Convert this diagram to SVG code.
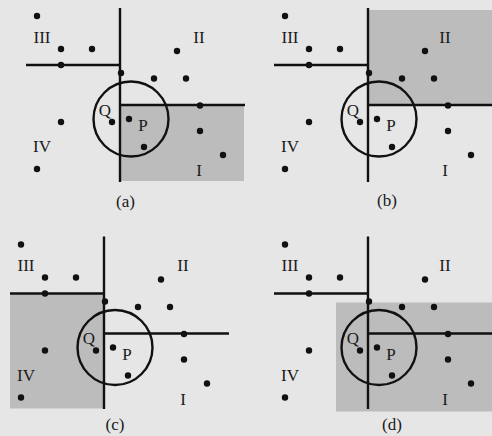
<svg xmlns="http://www.w3.org/2000/svg" width="492" height="436" viewBox="0 0 492 436">
<style>
.ln{stroke:#111;stroke-width:2.4;fill:none}
.sh{fill:#bcbcbc}
.pt{fill:#111}
.t{font-family:"Liberation Serif","Times New Roman",serif;font-size:17px;fill:#1a1a1a;text-anchor:middle}
</style>
<rect width="492" height="436" fill="#e6e6e6"/>
<g id="panel-a">
<rect class="sh" x="120" y="105" width="124" height="76"/>
<path class="ln" d="M120 8V182M26 65H120M120 105H245"/>
<circle class="ln" cx="131" cy="119" r="37.5"/>
<g class="pt">
<circle cx="37" cy="16" r="3.2"/><circle cx="61" cy="49" r="3.2"/><circle cx="92" cy="49" r="3.2"/><circle cx="61" cy="65" r="3.2"/>
<circle cx="121" cy="73" r="3.2"/><circle cx="154" cy="78.5" r="3.2"/><circle cx="186" cy="78.5" r="3.2"/><circle cx="177" cy="51" r="3.2"/>
<circle cx="200" cy="105.5" r="3.2"/><circle cx="61" cy="122" r="3.2"/><circle cx="112" cy="122" r="3.2"/><circle cx="129" cy="119" r="3.2"/>
<circle cx="200" cy="131" r="3.2"/><circle cx="144" cy="147" r="3.2"/><circle cx="223" cy="155" r="3.2"/><circle cx="37" cy="169" r="3.2"/>
</g>
<text class="t" x="42" y="42.5">III</text><text class="t" x="199" y="42.5">II</text>
<text class="t" x="105" y="115.5">Q</text><text class="t" x="143" y="131">P</text>
<text class="t" x="42" y="152">IV</text><text class="t" x="199" y="176">I</text>
<text class="t" x="125.5" y="207">(a)</text>
</g>
<g id="panel-b">
<g transform="translate(248,0)">
<rect class="sh" x="120" y="10" width="125" height="95"/>
<path class="ln" d="M120 8V182M26 65H120M120 105H245"/>
<circle class="ln" cx="131" cy="119" r="37.5"/>
<g class="pt">
<circle cx="37" cy="16" r="3.2"/><circle cx="61" cy="49" r="3.2"/><circle cx="92" cy="49" r="3.2"/><circle cx="61" cy="65" r="3.2"/>
<circle cx="121" cy="73" r="3.2"/><circle cx="154" cy="78.5" r="3.2"/><circle cx="186" cy="78.5" r="3.2"/><circle cx="177" cy="51" r="3.2"/>
<circle cx="200" cy="105.5" r="3.2"/><circle cx="61" cy="122" r="3.2"/><circle cx="112" cy="122" r="3.2"/><circle cx="129" cy="119" r="3.2"/>
<circle cx="200" cy="131" r="3.2"/><circle cx="144" cy="147" r="3.2"/><circle cx="223" cy="155" r="3.2"/><circle cx="37" cy="169" r="3.2"/>
</g>
<text class="t" x="42" y="42.5">III</text><text class="t" x="197" y="42.5">II</text>
<text class="t" x="105" y="115.5">Q</text><text class="t" x="143" y="131">P</text>
<text class="t" x="42" y="152">IV</text><text class="t" x="197" y="176">I</text>
</g>
<text class="t" x="387" y="206">(b)</text>
</g>
<g id="panel-c">
<g transform="translate(-16,228.5)">
<rect class="sh" x="26" y="65" width="94" height="115"/>
<path class="ln" d="M120 8V180.5M26 65H120M120 105H245"/>
<circle class="ln" cx="131" cy="119" r="37.5"/>
<g class="pt">
<circle cx="37" cy="16" r="3.2"/><circle cx="61" cy="49" r="3.2"/><circle cx="92" cy="49" r="3.2"/><circle cx="61" cy="65" r="3.2"/>
<circle cx="121" cy="73" r="3.2"/><circle cx="154" cy="78.5" r="3.2"/><circle cx="186" cy="78.5" r="3.2"/><circle cx="177" cy="51" r="3.2"/>
<circle cx="200" cy="105.5" r="3.2"/><circle cx="61" cy="122" r="3.2"/><circle cx="112" cy="122" r="3.2"/><circle cx="129" cy="119" r="3.2"/>
<circle cx="200" cy="131" r="3.2"/><circle cx="144" cy="147" r="3.2"/><circle cx="223" cy="155" r="3.2"/><circle cx="37" cy="169" r="3.2"/>
</g>
<text class="t" x="42" y="42.5">III</text><text class="t" x="199" y="42.5">II</text>
<text class="t" x="105" y="115.5">Q</text><text class="t" x="143" y="131">P</text>
<text class="t" x="42" y="152">IV</text><text class="t" x="199" y="176">I</text>
</g>
<text class="t" x="115" y="430">(c)</text>
</g>
<g id="panel-d">
<g transform="translate(248,228.5)">
<rect class="sh" x="88" y="74" width="157" height="109"/>
<path class="ln" d="M120 8V180.5M26 65H120M120 105H245"/>
<circle class="ln" cx="131" cy="119" r="37.5"/>
<g class="pt">
<circle cx="37" cy="16" r="3.2"/><circle cx="61" cy="49" r="3.2"/><circle cx="92" cy="49" r="3.2"/><circle cx="61" cy="65" r="3.2"/>
<circle cx="121" cy="73" r="3.2"/><circle cx="154" cy="78.5" r="3.2"/><circle cx="186" cy="78.5" r="3.2"/><circle cx="177" cy="51" r="3.2"/>
<circle cx="200" cy="105.5" r="3.2"/><circle cx="61" cy="122" r="3.2"/><circle cx="112" cy="122" r="3.2"/><circle cx="129" cy="119" r="3.2"/>
<circle cx="200" cy="131" r="3.2"/><circle cx="144" cy="147" r="3.2"/><circle cx="223" cy="155" r="3.2"/><circle cx="37" cy="169" r="3.2"/>
</g>
<text class="t" x="42" y="42.5">III</text><text class="t" x="197" y="42.5">II</text>
<text class="t" x="105" y="115.5">Q</text><text class="t" x="143" y="131">P</text>
<text class="t" x="42" y="152">IV</text><text class="t" x="197" y="176">I</text>
</g>
<text class="t" x="392" y="430">(d)</text>
</g>
</svg>
